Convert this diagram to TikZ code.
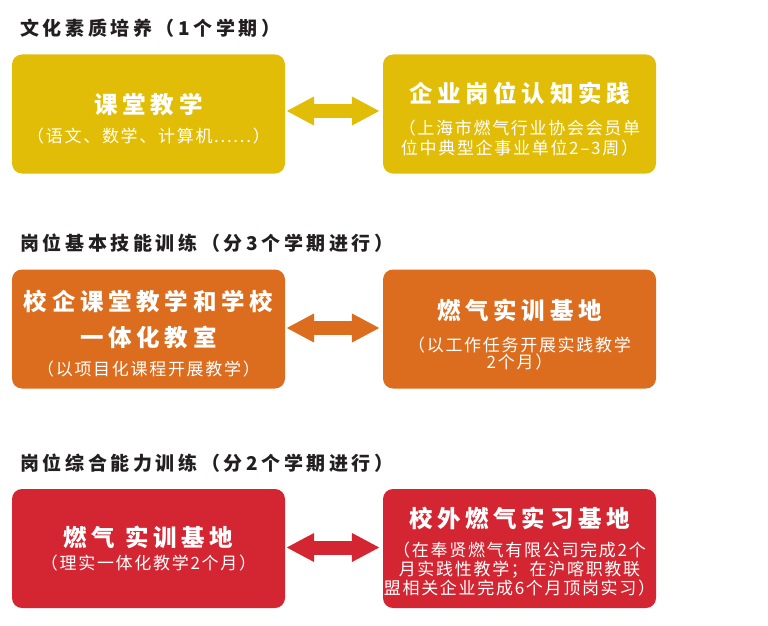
\documentclass[tikz,border=0pt]{standalone}
\usepackage{fontspec}
\usepackage{tikz}
\usetikzlibrary{arrows.meta, calc}
\newfontfamily\headfont[LetterSpace=19]{Noto Sans CJK SC}
\newfontfamily\titlefont[LetterSpace=20]{Noto Sans CJK SC}
\newfontfamily\subfont[LetterSpace=10]{Noto Sans CJK SC}
\definecolor{stageYellow}{RGB}{226,189,8}
\definecolor{stageOrange}{RGB}{220,108,30}
\definecolor{stageRed}{RGB}{212,38,50}
\definecolor{headBlack}{RGB}{35,31,32}
\newcommand{\btitle}[1]{{\titlefont\bfseries\fontsize{23.5}{20}\selectfont #1}}
\newcommand{\bsub}[1]{{\subfont\fontsize{17}{20}\selectfont #1}}
\newcommand{\tstrut}[1]{\rule{0pt}{#1}}
\tikzset{
  stagebox/.style={rounded corners=10pt, minimum width=273pt, minimum height=119pt,
    inner sep=0pt, align=center, text=white, font=\fontsize{17}{20}\selectfont},
  heading/.style={anchor=west, inner sep=0pt, text=headBlack,
    font=\headfont\bfseries\fontsize{19}{22}\selectfont},
  twoway/.style={line width=14pt, {Triangle[length=28pt,width=27pt]}-{Triangle[length=28pt,width=27pt]}}
}

\begin{document}
\begin{tikzpicture}[x=1pt, y=-1pt]
  \useasboundingbox (0,0) rectangle (768,626);

  % stage 1
  \node[heading] (h1) at (20,28) {文化素质培养（1个学期）};
  \node[stagebox, fill=stageYellow] (ktjx) at (148.5,114)
    {\btitle{\tstrut{29.5pt}课堂教学}\\[9.5pt]\bsub{（语文、数学、计算机......）}};
  \node[stagebox, fill=stageYellow] (qyrz) at (519.5,114)
    {\btitle{\tstrut{30.5pt}企业岗位认知实践}\\[12.5pt]\bsub{（上海市燃气行业协会会员单}\\\bsub{位中典型企事业单位2–3周）}};
  \draw[twoway, stageYellow] ($(ktjx.east)+(1,-3)$) -- ($(qyrz.west)+(-3,-3)$);

  % stage 2
  \node[heading] (h2) at (20,243) {岗位基本技能训练（分3个学期进行）};
  \node[stagebox, fill=stageOrange] (xqkt) at (148.5,329)
    {\btitle{\tstrut{29.5pt}校企课堂教学和学校}\\[12pt]\btitle{一体化教室}\\[9.5pt]\bsub{（以项目化课程开展教学）}};
  \node[stagebox, fill=stageOrange] (rqsx) at (519.5,329)
    {\btitle{\tstrut{31.5pt}燃气实训基地}\\[12.5pt]\bsub{（以工作任务开展实践教学}\\[-3pt]\bsub{2个月）}};
  \draw[twoway, stageOrange] ($(xqkt.east)+(1,-1)$) -- ($(rqsx.west)+(-3,-1)$);

  % stage 3
  \node[heading] (h3) at (20,463) {岗位综合能力训练（分2个学期进行）};
  \node[stagebox, fill=stageRed] (rqjd) at (148.5,548.5)
    {\btitle{燃气 实训基地}\\[3.5pt]\bsub{（理实一体化教学2个月）}};
  \node[stagebox, fill=stageRed] (xwsx) at (519.5,548.5)
    {\btitle{\tstrut{26.5pt}校外燃气实习基地}\\[9.5pt]\bsub{（在奉贤燃气有限公司完成2个}\\[-1pt]\bsub{月实践性教学；在沪喀职教联}\\[-1pt]\bsub{盟相关企业完成6个月顶岗实习）}};
  \draw[twoway, stageRed] ($(rqjd.east)+(1,-1)$) -- ($(xwsx.west)+(-3,-1)$);
\end{tikzpicture}
\end{document}
